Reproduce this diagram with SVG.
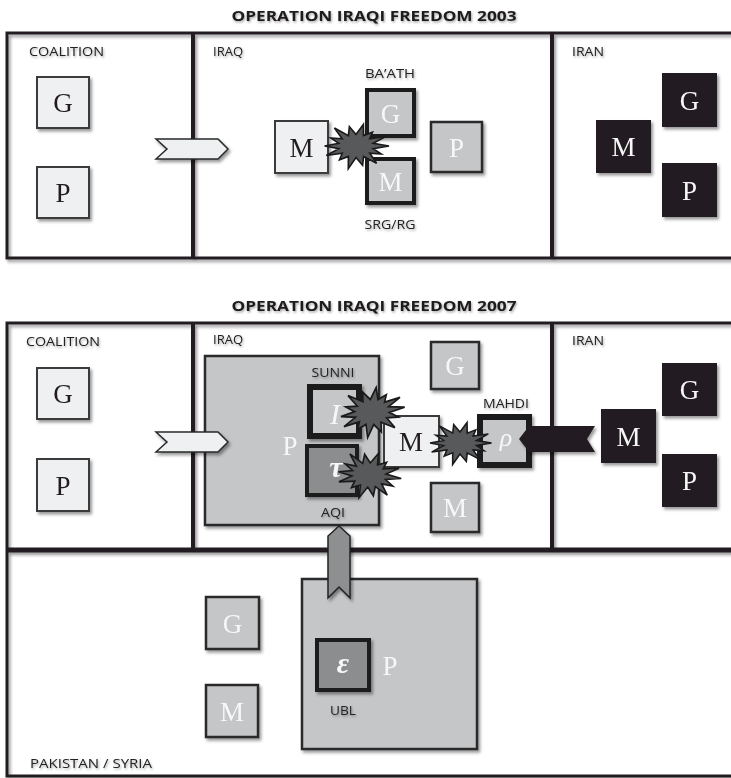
<svg xmlns="http://www.w3.org/2000/svg" xmlns:xlink="http://www.w3.org/1999/xlink" width="731" height="778" viewBox="0 0 731 778">
<defs>
<filter id="sh" x="-20%" y="-20%" width="150%" height="150%"><feDropShadow dx="2" dy="2.5" stdDeviation="1.5" flood-color="#000" flood-opacity="0.4"/></filter>
<filter id="tsh" x="-10%" y="-30%" width="130%" height="180%"><feDropShadow dx="1" dy="1.5" stdDeviation="1" flood-color="#000" flood-opacity="0.35"/></filter>
<path id="boom" d="M30,0 L15.6,2.5 L23,7.7 L12.5,6.9 L18.7,16.4 L6.9,9.9 L6,18.4 L0,11 L-7,21.5 L-6.9,9.9 L-15,13.1 L-12.5,6.9 L-27,9.1 L-15.6,2.5 L-28.5,0 L-15.6,-2.5 L-23,-7.7 L-12.5,-6.9 L-19.6,-17.2 L-6.9,-9.9 L-6,-18.4 L0,-11 L6.7,-20.5 L6.9,-9.9 L15,-13.1 L12.5,-6.9 L27,-9.1 L15.6,-2.5 Z"/>
<style>
.frame{fill:none;stroke:#231f20;stroke-width:3}
.dv{stroke:#231f20;stroke-width:4;fill:none}
.title{font-family:"Open Sans","Liberation Sans",sans-serif;font-weight:bold;font-size:14px;fill:#1e1a1b}
.lbl{font-family:"Open Sans","Liberation Sans",sans-serif;font-size:12px;fill:#222}
.lt{fill:#eff0f2;stroke:#3a3a3a;stroke-width:2}
.gr{fill:#c5c6c8;stroke:#2a2a2a;stroke-width:2.5}
.gr4{fill:#c5c6c8;stroke:#1e1e1e;stroke-width:4}
.gr6{fill:#c5c6c8;stroke:#1e1e1e;stroke-width:6}
.dg{fill:#8c8d8f;stroke:#1e1e1e;stroke-width:4}
.bk{fill:#231f20}
.t{font-family:"Liberation Serif","DejaVu Serif",serif;font-size:27px;text-anchor:middle}
.td{fill:#231f20}
.tw{fill:#f7f7f7}
.gk{font-family:"Liberation Serif","DejaVu Serif",serif;font-style:italic;text-anchor:middle;fill:#f7f7f7}
.boom{fill:#58595b;stroke:#1a1a1a;stroke-width:1.5}
.chev{fill:#eff0f2;stroke:#2a2a2a;stroke-width:1.5}
</style>
</defs>
<rect width="731" height="778" fill="#ffffff"/>

<text class="title" x="374" y="21" text-anchor="middle" textLength="285" lengthAdjust="spacingAndGlyphs" filter="url(#tsh)">OPERATION IRAQI FREEDOM 2003</text>
<text class="title" x="374" y="311" text-anchor="middle" textLength="285" lengthAdjust="spacingAndGlyphs" filter="url(#tsh)">OPERATION IRAQI FREEDOM 2007</text>

<g id="frames" filter="url(#sh)">
<rect class="frame" x="7" y="33" width="800" height="225"/>
<line class="dv" x1="193" y1="33" x2="193" y2="258"/>
<line class="dv" x1="552" y1="33" x2="552" y2="258"/>
<path class="frame" d="M740,323 H7 V776 H740"/>
<line class="dv" x1="193" y1="323" x2="193" y2="550"/>
<line class="dv" x1="552" y1="323" x2="552" y2="550"/>
<line x1="7" y1="550" x2="740" y2="550" stroke="#231f20" stroke-width="5"/>
</g>

<g id="labels" filter="url(#tsh)">
<text class="lbl" x="29" y="56" textLength="75" lengthAdjust="spacingAndGlyphs">COALITION</text>
<text class="lbl" x="213" y="56" textLength="30" lengthAdjust="spacingAndGlyphs">IRAQ</text>
<text class="lbl" x="572" y="56" textLength="32" lengthAdjust="spacingAndGlyphs">IRAN</text>
<text class="lbl" x="390" y="78" text-anchor="middle" textLength="50" lengthAdjust="spacingAndGlyphs">BA’ATH</text>
<text class="lbl" x="390" y="229" text-anchor="middle" textLength="51" lengthAdjust="spacingAndGlyphs">SRG/RG</text>
<text class="lbl" x="26" y="346" textLength="74" lengthAdjust="spacingAndGlyphs">COALITION</text>
<text class="lbl" x="213" y="344" textLength="30" lengthAdjust="spacingAndGlyphs">IRAQ</text>
<text class="lbl" x="572" y="345" textLength="32" lengthAdjust="spacingAndGlyphs">IRAN</text>
<text class="lbl" x="30" y="768" textLength="122" lengthAdjust="spacingAndGlyphs">PAKISTAN / SYRIA</text>
</g>

<g id="coalition-2003-G" filter="url(#sh)"><rect class="lt" x="37" y="77" width="52" height="51"/><text class="t td" x="63" y="112">G</text></g>
<g id="coalition-2003-P" filter="url(#sh)"><rect class="lt" x="37" y="167" width="52" height="51"/><text class="t td" x="63" y="202">P</text></g>
<g id="iraq-2003-M" filter="url(#sh)"><rect class="lt" x="275" y="121" width="53" height="52"/><text class="t td" x="301.5" y="157">M</text></g>
<g id="iraq-2003-G-baath" filter="url(#sh)"><rect class="gr4" x="367" y="90" width="47" height="46"/><text class="t tw" x="390.5" y="123">G</text></g>
<g id="iraq-2003-M-srg" filter="url(#sh)"><rect class="gr4" x="367" y="159" width="47" height="44"/><text class="t tw" x="390.5" y="191">M</text></g>
<g id="iraq-2003-P" filter="url(#sh)"><rect class="gr" x="431" y="122" width="51" height="50"/><text class="t tw" x="456.5" y="157">P</text></g>
<g id="iran-2003-G" filter="url(#sh)"><rect class="bk" x="662" y="73" width="55" height="54"/><text class="t tw" x="689.5" y="110">G</text></g>
<g id="iran-2003-M" filter="url(#sh)"><rect class="bk" x="596" y="120" width="55" height="53"/><text class="t tw" x="623.5" y="156">M</text></g>
<g id="iran-2003-P" filter="url(#sh)"><rect class="bk" x="662" y="163" width="55" height="54"/><text class="t tw" x="689.5" y="200">P</text></g>

<g id="coalition-2007-G" filter="url(#sh)"><rect class="lt" x="37" y="368" width="52" height="51"/><text class="t td" x="63" y="403">G</text></g>
<g id="coalition-2007-P" filter="url(#sh)"><rect class="lt" x="37" y="459" width="52" height="52"/><text class="t td" x="63" y="495">P</text></g>
<g id="iraq-2007-P" filter="url(#sh)"><rect class="gr" x="205" y="356" width="174" height="169"/><text class="t tw" x="290" y="455">P</text></g>
<g id="iraq-2007-sunni" filter="url(#sh)"><rect class="gr6" x="310" y="387" width="49" height="49"/><text class="gk" x="335" y="424" font-size="30">I</text></g>
<g id="iraq-2007-aqi" filter="url(#sh)"><rect class="dg" x="307" y="446" width="50" height="49"/><text class="gk" x="336" y="477" font-size="30" font-weight="bold">τ</text></g>
<g id="iraq-2007-M" filter="url(#sh)"><rect class="lt" x="384" y="416" width="55" height="51"/><text class="t td" x="411" y="451">M</text></g>
<g id="iraq-2007-G" filter="url(#sh)"><rect class="gr" x="431" y="342" width="48" height="47"/><text class="t tw" x="455" y="375">G</text></g>
<g id="iraq-2007-M2" filter="url(#sh)"><rect class="gr" x="431" y="483" width="48" height="49"/><text class="t tw" x="455" y="517">M</text></g>
<g id="iraq-2007-mahdi" filter="url(#sh)"><rect class="gr6" x="480" y="417" width="49" height="48"/><text class="gk" x="506" y="446" font-size="26">ρ</text></g>
<g id="iran-2007-G" filter="url(#sh)"><rect class="bk" x="662" y="363" width="55" height="53"/><text class="t tw" x="689.5" y="399">G</text></g>
<g id="iran-2007-M" filter="url(#sh)"><rect class="bk" x="601" y="409" width="55" height="54"/><text class="t tw" x="628.5" y="446">M</text></g>
<g id="iran-2007-P" filter="url(#sh)"><rect class="bk" x="662" y="454" width="55" height="53"/><text class="t tw" x="689.5" y="490">P</text></g>

<g id="pak-G" filter="url(#sh)"><rect class="gr" x="206" y="597" width="53" height="52"/><text class="t tw" x="232.5" y="633">G</text></g>
<g id="pak-M" filter="url(#sh)"><rect class="gr" x="206" y="685" width="52" height="52"/><text class="t tw" x="232" y="721">M</text></g>
<g id="pak-P" filter="url(#sh)"><rect class="gr" x="302" y="579" width="175" height="170"/><text class="t tw" x="390" y="675">P</text></g>
<g id="pak-ubl" filter="url(#sh)"><rect class="dg" x="317" y="640" width="52" height="50" stroke-width="3"/><text class="gk" x="343" y="673" font-size="30" font-weight="bold">ε</text></g>

<g id="labels-inner" filter="url(#tsh)">
<text class="lbl" x="333" y="377" text-anchor="middle" textLength="43" lengthAdjust="spacingAndGlyphs">SUNNI</text>
<text class="lbl" x="333" y="517" text-anchor="middle" textLength="24" lengthAdjust="spacingAndGlyphs">AQI</text>
<text class="lbl" x="506" y="408" text-anchor="middle" textLength="46" lengthAdjust="spacingAndGlyphs">MAHDI</text>
<text class="lbl" x="343" y="715" text-anchor="middle" textLength="26" lengthAdjust="spacingAndGlyphs">UBL</text>
</g>

<g id="connectors">
<polygon class="chev" filter="url(#sh)" points="156,139 218,139 228,149 218,159 156,159 167,149"/>
<polygon class="chev" filter="url(#sh)" points="156,432 218,432 228,442 218,452 156,452 167,442"/>
<polygon fill="#231f20" filter="url(#sh)" points="519,439 529,426 595,426 587,439 595,452 529,452"/>
<polygon fill="#8e8f91" stroke="#222" stroke-width="1.5" filter="url(#sh)" points="339,526 350,536 350,598 339,587 328,598 328,536"/>
<use xlink:href="#boom" class="boom" transform="translate(356,146) scale(1.1,1.05)"/>
<use xlink:href="#boom" class="boom" transform="translate(372,412) scale(1.1,1.15) rotate(-8)"/>
<use xlink:href="#boom" class="boom" transform="translate(369,475) scale(1.08,1.1) rotate(6)"/>
<use xlink:href="#boom" class="boom" transform="translate(460,443) scale(1.05,1)"/>
</g>
</svg>
